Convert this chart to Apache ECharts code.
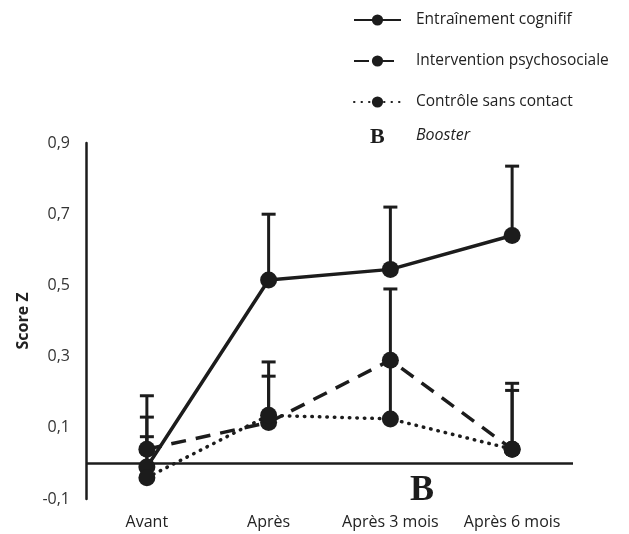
<!DOCTYPE html>
<html>
<head>
<meta charset="utf-8">
<script src="https://cdn.jsdelivr.net/npm/echarts@6/dist/echarts.min.js"></script>
<style>
  html, body { margin: 0; padding: 0; background: #fff; }
  #main { width: 629px; height: 534px; }
</style>
</head>
<body>
<div id="main"></div>
<script>
var categories = ['Avant', 'Après', 'Après 3 mois', 'Après 6 mois'];
var yTicks = [-0.1, 0.1, 0.3, 0.5, 0.7, 0.9];

var cognitif = [-0.01, 0.515, 0.545, 0.64];
var cognitifTop = [0.19, 0.70, 0.72, 0.835];
var psycho = [0.04, 0.115, 0.29, 0.04];
var psychoTop = [0.13, 0.285, 0.49, 0.225];
var controle = [-0.04, 0.135, 0.125, 0.04];
var controleTop = [0.075, 0.245, 0.29, 0.205];

var ink = '#1c1c1c';
var font = '"Open Sans", "Noto Sans", sans-serif';

var chart = echarts.init(document.getElementById('main'));

function errData(vals, tops) {
    return vals.map(function (v, i) { return [i, v, tops[i]]; });
}

function renderErr(params, api) {
    var i = api.value(0);
    var p0 = api.coord([i, api.value(1)]);
    var p1 = api.coord([i, api.value(2)]);
    return {
        type: 'group',
        children: [
            { type: 'line', shape: { x1: p0[0], y1: p0[1], x2: p1[0], y2: p1[1] }, style: { stroke: ink, lineWidth: 3 } },
            { type: 'line', shape: { x1: p1[0] - 7, y1: p1[1], x2: p1[0] + 7, y2: p1[1] }, style: { stroke: ink, lineWidth: 3 } }
        ]
    };
}

function errSeries(vals, tops) {
    return {
        type: 'custom',
        renderItem: renderErr,
        data: errData(vals, tops),
        encode: { x: 0, y: [1, 2] },
        z: 1,
        silent: true
    };
}

var option = {
    animation: false,
    textStyle: { fontFamily: font },
    grid: { left: 86, right: 56, top: 143, bottom: 35 },
    legend: {
        orient: 'vertical',
        left: 348,
        top: 7,
        itemWidth: 47,
        itemHeight: 14,
        itemGap: 25,
        textStyle: { fontFamily: font, fontSize: 15.5, color: '#222', padding: [0, 0, 0, 10] },
        data: ['Entraînement cognifif', 'Intervention psychosociale', 'Contrôle sans contact']
    },
    xAxis: {
        type: 'category',
        data: categories,
        axisLine: { show: false },
        axisTick: { show: false },
        axisLabel: { fontFamily: font, fontSize: 16, color: '#222', margin: 15, interval: 0 }
    },
    yAxis: {
        type: 'value',
        min: yTicks[0],
        max: yTicks[yTicks.length - 1],
        interval: 0.2,
        name: 'Score Z',
        nameLocation: 'middle',
        nameGap: 50,
        nameTextStyle: { fontFamily: font, fontSize: 16, fontWeight: 'bold', color: '#222' },
        axisLine: { show: true, onZero: false, lineStyle: { color: ink, width: 2.5 } },
        axisTick: { show: false },
        splitLine: { show: false },
        axisLabel: {
            fontFamily: font, fontSize: 16, color: '#333', margin: 16,
            formatter: function (v) { return v.toFixed(1).replace('.', ','); }
        }
    },
    graphic: [
        { type: 'text', left: 370, top: 126, style: { text: 'B', font: 'bold 22px "Liberation Serif", "DejaVu Serif", serif', fill: ink } },
        { type: 'text', left: 416, top: 127, style: { text: 'Booster', font: 'italic 16px ' + font, fill: '#222' } },
        { type: 'text', left: 410, top: 473, style: { text: 'B', font: 'bold 36px "Liberation Serif", "DejaVu Serif", serif', fill: ink } }
    ],
    series: [
        errSeries(cognitif, cognitifTop),
        errSeries(psycho, psychoTop),
        errSeries(controle, controleTop),
        {
            name: 'Entraînement cognifif',
            type: 'line',
            data: cognitif,
            symbol: 'circle',
            symbolSize: 17,
            itemStyle: { color: ink },
            lineStyle: { color: ink, width: 3.5 },
            z: 3,
            markLine: {
                silent: true,
                symbol: 'none',
                label: { show: false },
                lineStyle: { color: ink, width: 2.5, type: 'solid' },
                data: [{ yAxis: 0 }]
            }
        },
        {
            name: 'Intervention psychosociale',
            type: 'line',
            data: psycho,
            symbol: 'circle',
            symbolSize: 17,
            itemStyle: { color: ink },
            lineStyle: { color: ink, width: 3.5, type: [15, 10] },
            z: 3
        },
        {
            name: 'Contrôle sans contact',
            type: 'line',
            data: controle,
            symbol: 'circle',
            symbolSize: 17,
            itemStyle: { color: ink },
            lineStyle: { color: ink, width: 3.5, type: [0.5, 7], cap: 'round' },
            z: 3
        }
    ]
};

chart.setOption(option);
</script>
</body>
</html>
